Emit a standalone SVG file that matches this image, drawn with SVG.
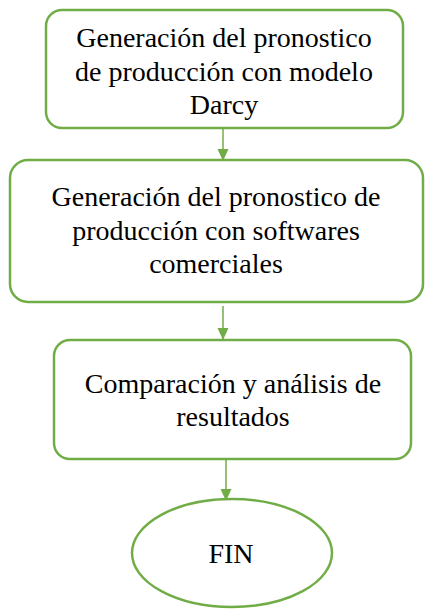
<svg xmlns="http://www.w3.org/2000/svg" width="425" height="609" viewBox="0 0 425 609">
<style>
.box{fill:#fff;stroke:#70AD47;stroke-width:2.5}
.c{stroke:#70AD47;stroke-width:1.5;fill:none}
</style>
<defs>
<marker id="ah" markerWidth="12" markerHeight="12" refX="11" refY="6" orient="auto" markerUnits="userSpaceOnUse" viewBox="0 0 12 12">
<path d="M0,0.5 L12,6 L0,11.5 z" fill="#70AD47"/>
</marker>
</defs>
<rect width="425" height="609" fill="#fff"/>
<g id="connectors">
<line class="c" x1="223" y1="128" x2="223" y2="160" marker-end="url(#ah)"/>
<line class="c" x1="223" y1="306" x2="223" y2="339" marker-end="url(#ah)"/>
<line class="c" x1="226" y1="460" x2="226" y2="500" marker-end="url(#ah)"/>
</g>
<g font-family="Liberation Serif, Times New Roman, serif" font-size="28" fill="#000" text-anchor="middle">
<g id="n1">
<rect class="box" x="46" y="10" width="357" height="118" rx="16"/>
<text x="224" y="47">Generación del pronostico</text>
<text x="224" y="81">de producción con modelo</text>
<text x="224" y="114">Darcy</text>
</g>
<g id="n2">
<rect class="box" x="10" y="160" width="413" height="142" rx="18"/>
<text x="216" y="206">Generación del pronostico de</text>
<text x="216" y="240">producción con softwares</text>
<text x="216" y="273">comerciales</text>
</g>
<g id="n3">
<rect class="box" x="54" y="340" width="357" height="119" rx="16"/>
<text x="233" y="393">Comparación y análisis de</text>
<text x="233" y="426">resultados</text>
</g>
<g id="n4">
<ellipse class="box" cx="232" cy="553" rx="100" ry="54"/>
<text x="231" y="563">FIN</text>
</g>
</g>
</svg>
